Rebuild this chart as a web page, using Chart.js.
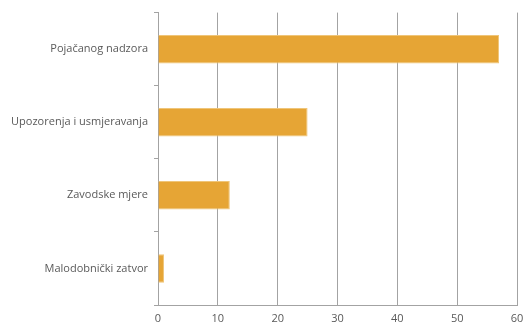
<!DOCTYPE html>
<html>
<head>
<meta charset="utf-8">
<script src="https://cdn.jsdelivr.net/npm/chart.js@4/dist/chart.umd.min.js"></script>
<style>
  html, body { margin: 0; padding: 0; background: #fff; }
  #wrap { width: 523px; height: 325px; position: relative; }
</style>
</head>
<body>
<div id="wrap"><canvas id="chart"></canvas></div>
<script>
  // podaci
  var categories = ['Pojačanog nadzora', 'Upozorenja i usmjeravanja', 'Zavodske mjere', 'Malodobnički zatvor'];
  var values = [57, 25, 12, 1];
  var xTicks = [0, 10, 20, 30, 40, 50, 60];

  var gridColor = '#a3a3a3';
  var textColor = '#595959';

  new Chart(document.getElementById('chart').getContext('2d'), {
    type: 'bar',
    data: {
      labels: categories,
      datasets: [{
        data: values,
        backgroundColor: '#e6a535',
        borderColor: '#efc579',
        borderWidth: 1,
        borderSkipped: 'left',
        barPercentage: 0.39,
        categoryPercentage: 1
      }]
    },
    options: {
      indexAxis: 'y',
      responsive: true,
      maintainAspectRatio: false,
      animation: false,
      layout: { padding: { top: 12, right: 0, bottom: 0, left: 0 } },
      plugins: { legend: { display: false }, tooltip: { enabled: false } },
      scales: {
        x: {
          min: xTicks[0],
          max: xTicks[xTicks.length - 1],
          afterBuildTicks: function (scale) {
            scale.ticks = xTicks.map(function (v) { return { value: v }; });
          },
          afterFit: function (scale) {
            scale.height = 20;
            scale.paddingLeft = 0;
            scale.paddingRight = 6;
          },
          grid: { color: gridColor, drawTicks: false, lineWidth: 1 },
          border: { display: true, color: gridColor },
          ticks: { color: textColor, font: { family: 'Open Sans', size: 11 }, padding: 7 }
        },
        y: {
          afterFit: function (scale) { scale.width = 158; },
          grid: { drawOnChartArea: false, color: gridColor, tickLength: 4, offset: true },
          border: { display: true, color: gridColor },
          ticks: { color: textColor, font: { family: 'Open Sans', size: 11 }, padding: 6 }
        }
      }
    }
  });
</script>
</body>
</html>
